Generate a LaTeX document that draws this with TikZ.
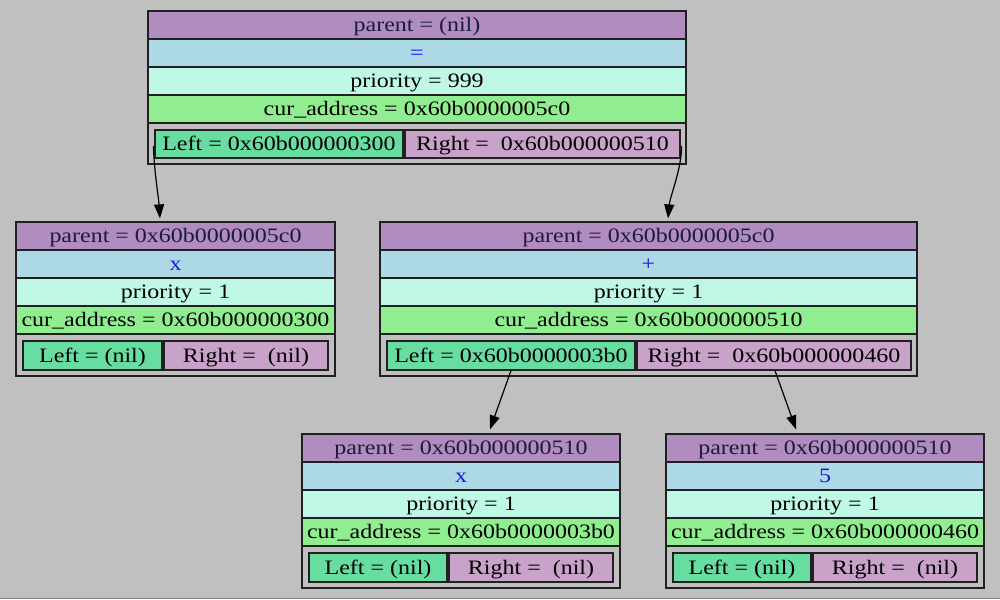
\documentclass[tikz,border=0pt]{standalone}
\usepackage{fontspec}
\usepackage{graphicx}
\setmainfont{Liberation Serif}
\usetikzlibrary{arrows.meta,calc}
\definecolor{bg}{HTML}{C0C0C0}
\definecolor{cparent}{HTML}{B08CC1}
\definecolor{cop}{HTML}{ADD8E6}
\definecolor{cprio}{HTML}{BFF8E6}
\definecolor{caddr}{HTML}{90EE90}
\definecolor{cleft}{HTML}{68DDA2}
\definecolor{cright}{HTML}{C8A2C8}
\definecolor{cline}{HTML}{202020}
\definecolor{cptxt}{HTML}{1C1C38}
\definecolor{coptxt}{HTML}{1818E0}
\definecolor{cbot}{HTML}{808080}
\newcommand\sx[1]{\scalebox{1.17}[1]{#1}}
\newcommand\gvcell[7]{%
  \pgfmathsetmacro\gvw{#4-#2}\pgfmathsetmacro\gvh{#5-#3}%
  \node[#6, minimum width=\gvw pt, minimum height=\gvh pt] (#1) at ({(#2+#4)/2},{(#3+#5)/2}) {\sx{#7}};}
% name x0 y0 x1 y1 parent op prio addr
\newcommand\gvtable[9]{%
  \pgfmathsetmacro\ya{#3+28}\pgfmathsetmacro\yb{#3+56}\pgfmathsetmacro\yc{#3+84}\pgfmathsetmacro\yd{#3+112}%
  \gvcell{#1p}{#2}{#3}{#4}{\ya}{rowbox,fill=cparent,text=cptxt}{#6}
  \gvcell{#1o}{#2}{\ya}{#4}{\yb}{rowbox,fill=cop,text=coptxt}{#7}
  \gvcell{#1r}{#2}{\yb}{#4}{\yc}{rowbox,fill=cprio}{#8}
  \gvcell{#1a}{#2}{\yc}{#4}{\yd}{rowbox,fill=caddr}{#9}
  \gvcell{#1b}{#2}{\yd}{#4}{#5}{rowbox}{}}
\tikzset{
  rowbox/.style={draw=cline, line width=1.2pt, inner sep=0pt, text height=13.5pt, text depth=0pt, rectangle},
  leftbox/.style={rowbox, fill=cleft},
  rightbox/.style={rowbox, fill=cright},
  edge/.style={draw=black, line width=1.2pt, -{Triangle[length=14pt,width=10pt]}}
}
\begin{document}
\begin{tikzpicture}[x=1pt,y=-1pt]
\fill[bg] (0,0) rectangle (1000,599);
\fill[cbot] (0,597.6) rectangle (1000,599);
\useasboundingbox (0,0) rectangle (1000,599);
\fontsize{20.5}{24}\selectfont
% top node
\gvtable{t}{148}{11}{686}{164}{parent = (nil)}{=}{priority = 999}{cur\_address = 0x60b0000005c0}
\gvcell{tL}{155}{130}{403}{158}{leftbox}{Left = 0x60b000000300}
\gvcell{tR}{405}{130}{680}{158}{rightbox}{Right = \ 0x60b000000510}
% left child
\gvtable{A}{16}{222}{335}{376}{parent = 0x60b0000005c0}{x}{priority = 1}{cur\_address = 0x60b000000300}
\gvcell{AL}{23}{341}{162}{370}{leftbox}{Left = (nil)}
\gvcell{AR}{164}{341}{328}{370}{rightbox}{Right = \ (nil)}
% right child
\gvtable{B}{380}{222}{917}{376}{parent = 0x60b0000005c0}{+}{priority = 1}{cur\_address = 0x60b000000510}
\gvcell{BL}{387}{341}{635}{370}{leftbox}{Left = 0x60b0000003b0}
\gvcell{BR}{637}{341}{911}{370}{rightbox}{Right = \ 0x60b000000460}
% grandchild left
\gvtable{C}{302}{434}{620}{588}{parent = 0x60b000000510}{x}{priority = 1}{cur\_address = 0x60b0000003b0}
\gvcell{CL}{309}{553}{447}{582}{leftbox}{Left = (nil)}
\gvcell{CR}{449}{553}{613}{582}{rightbox}{Right = \ (nil)}
% grandchild right
\gvtable{D}{666}{434}{984}{588}{parent = 0x60b000000510}{5}{priority = 1}{cur\_address = 0x60b000000460}
\gvcell{DL}{673}{553}{811}{582}{leftbox}{Left = (nil)}
\gvcell{DR}{813}{553}{977}{582}{rightbox}{Right = \ (nil)}
% edges
\draw[edge] ($(tL.west)+(-1,2)$) .. controls ($(tL.west)+(0,30)$) and ($(Ap.north)+(-17,-25)$) .. ($(Ap.north)+(-15.5,-3)$);
\draw[edge] ($(tR.east)+(1,2)$) .. controls ($(tR.east)+(1,25)$) and ($(Bp.north)+(21.5,-25)$) .. ($(Bp.north)+(19.5,-3)$);
\draw[edge] (BL.south) -- ($(Cp.north)+(29,-4)$);
\draw[edge] ($(BR.south)+(1,0)$) -- ($(Dp.north)+(-29,-4)$);
\end{tikzpicture}
\end{document}
